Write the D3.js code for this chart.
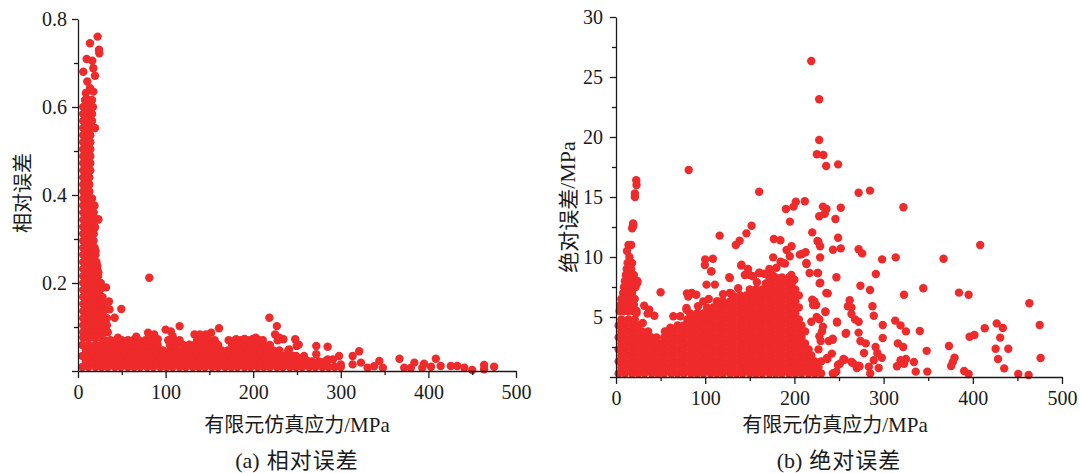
<!DOCTYPE html>
<html><head><meta charset="utf-8">
<script src="https://cdn.jsdelivr.net/npm/d3@7"></script>
<style>body{margin:0;background:#fff}svg{display:block}</style>
</head><body>
<svg id="c" width="1081" height="473"></svg>
<script>
// ---------- tick values ----------
const stressTicks = [0, 100, 200, 300, 400, 500];
const stressMinor = [50, 150, 250, 350, 450];
const relTicks = [0, 0.2, 0.4, 0.6, 0.8];
const relMinor = [0.1, 0.3, 0.5, 0.7];
const absTicks = [0, 5, 10, 15, 20, 25, 30];
const absMinor = [2.5, 7.5, 12.5, 17.5, 22.5, 27.5];

// ---------- (a) relative error: dense spike near 0-35 MPa, rows [error, stresses] ----------
const relSpikeRows = [
  [0.616, [8, 12, 16]], [0.600, [6, 10, 14, 17]], [0.584, [6, 10, 14, 16]], [0.568, [6, 10, 14, 16]],
  [0.552, [6, 10, 14, 19]], [0.536, [6, 10, 14]], [0.520, [6, 10, 14]], [0.504, [6, 10, 14]],
  [0.488, [6, 10, 14]], [0.472, [6, 10, 14]], [0.456, [6, 10, 14]], [0.440, [6, 10, 13]],
  [0.424, [6, 10, 13]], [0.408, [6, 10, 13]], [0.392, [6, 10, 13, 16]], [0.376, [6, 10, 14, 18.6]],
  [0.360, [6, 10, 14, 18]], [0.344, [6, 10, 14, 18, 23]], [0.328, [6, 10, 14, 19]], [0.312, [6, 10, 14, 18]],
  [0.296, [6, 10, 14, 17.5]], [0.280, [6, 10, 14, 19]], [0.264, [6, 10, 14, 18, 20]], [0.248, [6, 10, 14, 18, 21]],
  [0.232, [6, 10, 14, 18, 22]], [0.216, [6, 10, 14, 18, 23]], [0.200, [6, 10, 14, 18, 22, 26]],
  [0.184, [6, 10, 14, 18, 22, 25]], [0.168, [6, 10, 14, 18, 22, 26, 28]], [0.152, [6, 10, 14, 18, 22, 26, 30]],
  [0.136, [6, 10, 14, 18, 22, 26, 29]], [0.120, [6, 10, 14, 18, 22, 26, 30, 33]],
  [0.104, [6, 10, 14, 18, 22, 26, 30, 33]], [0.088, [6, 10, 14, 18, 22, 26, 30, 34]],
  [0.076, [6, 10, 14, 18, 22, 26]]
];
// low-error band along the stress axis, rows [error, stresses]
const relBandRows = [
  [0.009, [5, 12, 20, 27, 34, 42, 49, 57, 64, 71, 79, 86, 94, 101, 108, 116, 123, 131, 138, 145, 153, 160, 168, 175, 182, 190, 197, 205, 212, 219, 227, 234, 242, 249, 256, 264, 271, 279, 286, 293, 300]],
  [0.0215, [9, 16, 23, 31, 38, 45, 53, 60, 68, 75, 82, 90, 97, 105, 112, 119, 127, 134, 142, 149, 156, 164, 171, 179, 186, 193, 201, 208, 216, 223, 230, 238, 245, 253, 260, 267, 275, 282]],
  [0.034, [5, 12, 20, 27, 34, 42, 49, 57, 64, 71, 79, 86, 94, 101, 108, 116, 123, 131, 138, 145, 153, 160, 168, 175, 182, 190, 197, 205, 212, 219, 227, 234, 242, 249, 258]],
  [0.0465, [9, 16, 23, 31, 38, 45, 53, 60, 68, 75, 82, 90, 97, 105, 112, 119, 127, 134, 142, 149, 156, 164, 171, 179, 186, 193, 201, 208, 216, 223, 230, 240]],
  [0.059, [5, 12, 20, 27, 34, 42, 49, 57, 64, 71, 79, 86, 91, 105, 112, 120, 127, 133, 140, 147, 153, 160, 176, 182, 190, 197, 205, 212, 219]],
  [0.07, [30, 37, 43, 50, 57, 63, 69, 77, 83, 88, 103, 109, 116, 136, 143, 149, 156, 172, 180, 186, 194, 201, 207, 228]]
];
// individual points [stress, relative error]
const relPoints = [
  [22.4, 0.76], [13.7, 0.745], [24, 0.73], [24.3, 0.722], [9.9, 0.709], [16.3, 0.705], [6.1, 0.68], [17.5, 0.688],
  [19.4, 0.671], [10.6, 0.658], [13.7, 0.643], [9, 0.632], [17.5, 0.635], [19.4, 0.552], [18.6, 0.375], [23.2, 0.345],
  [19.4, 0.326], [17.5, 0.296], [20, 0.273], [22, 0.239], [23.2, 0.224], [32, 0.19], [35.3, 0.158], [36, 0.14],
  [41.8, 0.121], [49.4, 0.141], [81.4, 0.212], [45.6, 0.0755], [66.5, 0.078], [80, 0.087], [87, 0.083], [91, 0.072],
  [100, 0.094], [106, 0.09], [116, 0.102], [108, 0.079], [127, 0.06], [133, 0.083], [139, 0.083], [146, 0.083],
  [152, 0.087], [161, 0.097], [177, 0.066], [180.5, 0.072], [190, 0.073], [199.5, 0.073], [203, 0.0755], [211, 0.07],
  [218.5, 0.121], [227, 0.102], [225, 0.083], [230, 0.0755], [234.5, 0.072], [248, 0.072], [249.7, 0.057], [241, 0.049],
  [245, 0.034], [252, 0.06], [262, 0.0227], [272, 0.057], [272, 0.038], [275.5, 0.02], [285, 0.055], [285, 0.026],
  [291, 0.026], [298, 0.034], [300, 0.015], [313.5, 0.034], [321, 0.045], [323, 0.019], [313.5, 0.015], [330.6, 0.0075],
  [338, 0.011], [344, 0.023], [348, 0.0075], [367, 0.028], [372.4, 0.0075], [380, 0.0075], [384, 0.019], [393, 0.0075],
  [395, 0.0166], [403, 0.0098], [408.5, 0.028], [414, 0.0113], [425.6, 0.0113], [433, 0.0113], [441, 0.0075],
  [450, 0.0023], [463.6, 0.0136], [463.6, 0.004], [475, 0.0098]
];

// ---------- (b) absolute error (MPa) ----------
const absSpikeRows = [
  [10.0, [15]], [9.5, [13, 18]], [9.0, [12, 17]], [8.5, [11, 16, 20]], [8.0, [10, 15, 20, 24]],
  [7.5, [9, 14, 19, 22]], [7.0, [8, 13, 18]], [6.5, [6, 11, 16, 21]], [6.0, [5, 10, 15, 20]], [5.5, [4, 9, 14, 19, 23]]
];
const absBodyRows = [
  [0.3, [3, 10, 18, 25, 32, 40, 47, 54, 62, 69, 76, 84, 91, 98, 106, 113, 120, 128, 135, 142, 150, 157, 164, 172, 179, 186, 194, 201, 208, 216, 223, 230]],
  [0.8, [6, 14, 21, 29, 36, 43, 51, 58, 65, 73, 80, 87, 95, 102, 109, 117, 124, 131, 139, 146, 153, 161, 168, 175, 183, 190, 197, 205, 212, 219, 227]],
  [1.3, [3, 10, 18, 25, 32, 40, 47, 54, 62, 69, 76, 84, 91, 98, 106, 113, 120, 128, 135, 142, 150, 157, 164, 172, 179, 186, 194, 201, 208, 216, 223, 230]],
  [1.8, [6, 14, 21, 29, 36, 43, 51, 58, 65, 73, 80, 87, 95, 102, 109, 117, 124, 131, 139, 146, 153, 161, 168, 175, 183, 190, 197, 205, 212, 219]],
  [2.3, [3, 10, 18, 25, 32, 40, 47, 54, 62, 69, 76, 84, 91, 98, 106, 113, 120, 128, 135, 142, 150, 157, 164, 172, 179, 186, 194, 201, 208, 216]],
  [2.8, [6, 14, 21, 29, 36, 43, 51, 58, 65, 73, 80, 87, 95, 102, 109, 117, 124, 131, 139, 146, 153, 161, 168, 175, 183, 190, 197, 205, 212]],
  [3.3, [3, 10, 18, 25, 32, 40, 54, 62, 69, 76, 84, 91, 98, 106, 113, 120, 128, 135, 142, 150, 157, 164, 172, 179, 186, 194, 201, 208]],
  [3.8, [6, 14, 21, 29, 36, 58, 65, 73, 80, 87, 95, 102, 109, 117, 124, 131, 139, 146, 153, 161, 168, 175, 183, 190, 197, 205, 212]],
  [4.3, [3, 10, 18, 25, 69, 76, 84, 91, 98, 106, 113, 120, 128, 135, 142, 150, 157, 164, 172, 179, 186, 194, 201, 208]],
  [4.8, [6, 14, 21, 80, 87, 95, 102, 109, 117, 124, 131, 139, 146, 153, 161, 168, 175, 183, 190, 197, 205]],
  [5.3, [91, 98, 106, 113, 120, 128, 135, 142, 150, 157, 164, 172, 179, 186, 194, 201]],
  [5.8, [102, 109, 117, 124, 131, 139, 146, 153, 161, 168, 175, 183, 190, 197, 205]],
  [6.3, [113, 120, 128, 135, 142, 150, 157, 164, 172, 179, 186, 194, 201]],
  [6.8, [131, 139, 146, 153, 161, 168, 175, 183, 190, 197, 205]],
  [7.3, [150, 157, 164, 172, 179, 186, 194, 201]],
  [7.8, [168, 175, 183, 190, 197]],
  [8.3, [172, 179, 186, 194]]
];
const absPoints = [
  [218.9, 26.33], [227.8, 23.14], [227.8, 19.75], [225.2, 18.56], [232.5, 18.5], [235.6, 17.58], [249, 17.72], [81.5, 17.25],
  [22.7, 16.4], [23, 16.0], [21.2, 15.3], [21.2, 15.0], [160.5, 15.44], [272, 15.36], [284.8, 15.53], [201.6, 14.6],
  [211.7, 14.65], [190.5, 14.0], [199, 14.2], [252, 14.1], [322.2, 14.14], [232, 14.2], [236, 14.0], [234, 13.6],
  [227.8, 13.4], [246, 13.17], [152, 12.6], [195, 12.95], [146.2, 11.97], [220, 12.05], [116.2, 11.78], [138.6, 11.36],
  [134.3, 11.0], [177, 11.5], [184.3, 11.4], [225.9, 11.33], [226.9, 11.25], [228.8, 10.9], [249, 11.6], [252, 10.72],
  [243.2, 10.6], [408.3, 11.0], [272, 10.64], [276, 10.3], [191.2, 10.58], [196.8, 10.9], [208.6, 10.25], [212.5, 10.4],
  [100, 9.8], [108.6, 9.86], [176.2, 9.97], [228.8, 9.97], [298.3, 9.8], [313.6, 9.97], [367.2, 9.86], [140.4, 9.28],
  [99.6, 9.33], [213.6, 9.42], [184.5, 9.6], [189.5, 9.45], [291.3, 8.58], [247.1, 8.31], [225.9, 8.67], [106.7, 8.8],
  [127, 8.31], [160.5, 8.7], [148, 9.0], [150, 8.5], [229, 7.86], [274, 7.61], [344.5, 7.39], [237.4, 6.97],
  [284.8, 7.25], [384.5, 7.03], [395.3, 6.86], [322.9, 6.86], [50, 7.06], [79.5, 6.97], [85.3, 6.97], [128.9, 6.97],
  [463.4, 6.14], [222.5, 6.3], [224.5, 6.0], [264, 5.8], [260, 5.9], [262, 6.4], [287.5, 5.9], [234.8, 5.42],
  [247.8, 4.53], [264, 5.25], [268, 4.8], [272, 4.6], [299, 4.33], [289, 5.1], [313, 4.7], [319, 4.3], [325, 3.8],
  [340.6, 3.83], [373.3, 2.58], [413.4, 4.06], [426.8, 4.47], [433.7, 4.08], [475, 4.33], [396.4, 3.36], [401.8, 3.5],
  [430.7, 3.28], [425.6, 2.36], [439.8, 2.36], [428.3, 1.5], [435.2, 0.72], [476, 1.58], [451, 0.25], [462.6, 0.17],
  [395.3, 0.25], [390.3, 0.5], [377.6, 1.25], [379.5, 1.6], [375.7, 0.92], [348.3, 2.18], [349, 0.45], [336, 0.45],
  [334, 1.25], [325, 1.5], [323, 1.1], [319, 1.4], [315, 0.9], [316, 2.8], [322, 2.5], [299, 3.25], [298, 1.6],
  [291, 2.5], [293, 2.0], [289, 1.4], [294.5, 0.75], [285, 0.3], [283.5, 0.85], [280, 2.8], [278, 2.0], [272, 3.7],
  [274, 3.0], [264, 1.25], [270, 0.75], [272, 0.95], [257.5, 3.6], [255, 1.5], [251, 1.1], [247, 0.45], [243, 0.3],
  [243, 3.2], [238.5, 3.0], [242, 1.95], [237, 1.5], [227, 2.3], [231, 3.8], [229.5, 3.0], [225, 5.0], [219, 4.6],
  [127.6, 8.25], [127.6, 7.0], [140.7, 9.36], [144.4, 8.5], [153.7, 8.4], [161, 8.67], [175.4, 8.5], [179.8, 9.1],
  [187.3, 9.5], [194.8, 10.06], [196.6, 8.5], [206, 10.2], [213.4, 9.5], [217, 8.67], [226.5, 8.67], [228.3, 7.8],
  [235.8, 7.0], [220, 6.45], [221, 6.0], [234.7, 5.47], [247.7, 4.6], [228, 4.8], [232, 4.2], [228, 3.4], [243, 3.1],
  [236.5, 1.58], [245, 0.33], [248.8, 1.0], [256.3, 1.44], [258, 3.67], [265.6, 1.17], [273, 0.9],
  [23, 5.33], [31.6, 5.94], [37.3, 5.6], [35.4, 5.28], [43, 5.1], [24, 7.86], [14, 11], [17, 11], [12.3, 10.5],
  [19.2, 12.8], [18.1, 12.4], [19.5, 12.6], [64.3, 5.06], [72, 5.06], [79, 5.6], [81, 6.7], [84.7, 7.0], [90, 6.86],
  [97.8, 6.3], [79, 5.75], [83, 5.3], [45.5, 3.3], [54.8, 3.8], [101.5, 7.7], [110.8, 7.7], [114.5, 6.3], [107, 8.8],
  [30, 4.5], [61, 4.1], [92, 5.9], [104, 6.5], [120, 6.9], [137, 7.4], [158, 7.9], [166, 8.6], [172, 9.0], [200, 8.1]
];

// ---------- text ----------
const xTitleCJK = "有限元仿真应力", unitText = "/MPa";
const relYTitle = "相对误差";
const absYTitleCJK = "绝对误差";
const captionLabelA = "(a)", captionLabelB = "(b)";
const captionA = "相对误差", captionB = "绝对误差";

const COLOR = "#ee2a2a";
const INK = "#1a1a1a";
const NUMFONT = "'Liberation Serif', 'DejaVu Serif', 'Times New Roman', serif";
const CJKFONT = "'Noto Sans CJK SC', sans-serif";

const expand = rows => rows.flatMap(([y, xs]) => xs.map(x => [x, y]));

const svg = d3.select("#c");

function mixed(sel, cjk, latin, size) {
  sel.append("tspan").style("font-family", CJKFONT).style("font-size", size + "px").text(cjk);
  if (latin) sel.append("tspan").style("font-family", NUMFONT).style("font-size", (size + 1) + "px").text(latin);
}

function panel(cfg) {
  const x = d3.scaleLinear().domain([0, 500]).range([cfg.x0, cfg.x1]);
  const y = d3.scaleLinear().domain(cfg.yDomain).range([cfg.yBot, cfg.yTop]);
  const g = svg.append("g");

  g.append("g").selectAll("circle").data(cfg.points).join("circle")
    .attr("cx", d => x(d[0])).attr("cy", d => y(d[1])).attr("r", 4.2).attr("fill", COLOR);

  // minor ticks
  const mx = g.append("g").attr("transform", `translate(0,${cfg.yBot})`)
    .call(d3.axisBottom(x).tickValues(stressMinor).tickSize(4).tickFormat(""));
  mx.select(".domain").remove();
  const my = g.append("g").attr("transform", `translate(${cfg.x0},0)`)
    .call(d3.axisLeft(y).tickValues(cfg.yMinor).tickSize(4).tickFormat(""));
  my.select(".domain").remove();

  const ax = g.append("g").attr("transform", `translate(0,${cfg.yBot})`)
    .call(d3.axisBottom(x).tickValues(stressTicks).tickSize(7).tickSizeOuter(0).tickPadding(7).tickFormat(d3.format("d")));
  const ay = g.append("g").attr("transform", `translate(${cfg.x0},0)`)
    .call(d3.axisLeft(y).tickValues(cfg.yTicks).tickSize(6).tickSizeOuter(0).tickPadding(cfg.yPad).tickFormat(cfg.yFormat));

  g.selectAll(".tick line, .domain").attr("stroke", INK).attr("stroke-width", 1.3);
  [ax, ay].forEach(a => {
    a.attr("font-family", null).attr("font-size", null);
    a.selectAll("text").attr("font-family", null)
      .style("font-family", NUMFONT).style("font-size", "20px").attr("fill", INK);
  });

  // axis titles
  const xt = g.append("text").attr("x", cfg.xTitleX).attr("y", 432).attr("text-anchor", "middle").attr("fill", INK);
  mixed(xt, xTitleCJK, unitText, 20);
  const yt = g.append("text").attr("transform", `translate(${cfg.yTitleX},${cfg.yTitleY}) rotate(-90)`)
    .attr("text-anchor", "middle").attr("dominant-baseline", "central").attr("fill", INK);
  mixed(yt, cfg.yTitle, cfg.yUnit, cfg.yTitleSize);
  const ct = g.append("text").attr("x", cfg.capX).attr("y", 468).attr("text-anchor", "middle").attr("fill", INK);
  ct.append("tspan").style("font-family", NUMFONT).style("font-size", "22px").text(cfg.capLabel);
  ct.append("tspan").attr("dx", 7).style("font-family", CJKFONT).style("font-size", "22px")
    .style("letter-spacing", "1px").text(cfg.caption);
}

panel({
  x0: 78, x1: 516, yTop: 19, yBot: 371, yDomain: [0, 0.8],
  yTicks: relTicks, yMinor: relMinor, yPad: 5,
  yFormat: d => d === 0 ? "" : d3.format(".1f")(d),
  points: [...expand(relBandRows), ...expand(relSpikeRows), ...relPoints],
  xTitleX: 297, yTitleX: 21, yTitleY: 193, yTitle: relYTitle, yUnit: "", yTitleSize: 20,
  capX: 297, capLabel: captionLabelA, caption: captionA
});

panel({
  x0: 616, x1: 1062, yTop: 17, yBot: 377, yDomain: [0, 30],
  yTicks: absTicks, yMinor: absMinor, yPad: 7,
  yFormat: d => d === 0 ? "" : d3.format("d")(d),
  points: [...expand(absBodyRows), ...expand(absSpikeRows), ...absPoints],
  xTitleX: 835, yTitleX: 567, yTitleY: 207, yTitle: absYTitleCJK, yUnit: unitText, yTitleSize: 21,
  capX: 839, capLabel: captionLabelB, caption: captionB
});
</script>
</body></html>
